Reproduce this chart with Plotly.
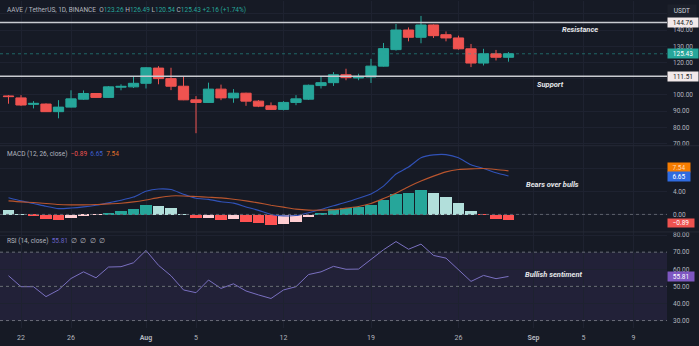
import plotly.graph_objects as go

W, H = 699, 346

# ---------------- data ----------------
dates = ["2024-07-21", "2024-07-22", "2024-07-23", "2024-07-24", "2024-07-25", "2024-07-26",
         "2024-07-27", "2024-07-28", "2024-07-29", "2024-07-30", "2024-07-31",
         "2024-08-01", "2024-08-02", "2024-08-03", "2024-08-04", "2024-08-05", "2024-08-06",
         "2024-08-07", "2024-08-08", "2024-08-09", "2024-08-10", "2024-08-11", "2024-08-12",
         "2024-08-13", "2024-08-14", "2024-08-15", "2024-08-16", "2024-08-17", "2024-08-18",
         "2024-08-19", "2024-08-20", "2024-08-21", "2024-08-22", "2024-08-23", "2024-08-24",
         "2024-08-25", "2024-08-26", "2024-08-27", "2024-08-28", "2024-08-29", "2024-08-30"]

opens = [99.4, 98.2, 94.2, 94.4, 89.7, 92.5, 97.4, 100.9, 98.5, 104.8, 105.0,
         107.2, 116.6, 110.1, 105.4, 97.0, 95.4, 103.6, 98.2, 101.1, 96.2, 93.3, 91.1,
         95.4, 97.4, 105.8, 107.6, 112.5, 110.5, 111.1, 117.8, 128.0, 140.1, 135.6, 143.2,
         137.2, 135.2, 128.5, 119.7, 125.4, 123.26]
highs = [99.9, 99.9, 96.2, 94.8, 96.8, 102.9, 102.8, 101.2, 105.5, 106.6, 111.1,
         117.2, 117.8, 116.8, 111.1, 99.3, 107.6, 106.4, 103.6, 101.4, 96.8, 95.4, 96.2,
         99.9, 106.4, 111.1, 114.1, 116.2, 113.1, 122.3, 132.1, 143.8, 141.7, 148.8, 143.5,
         139.2, 136.6, 131.5, 128.5, 127.8, 126.49]
lows = [94.6, 93.3, 91.7, 89.5, 85.6, 92.3, 96.9, 98.2, 98.2, 102.9, 104.3,
        104.0, 106.6, 103.0, 96.8, 76.4, 95.2, 96.8, 95.2, 93.3, 92.5, 90.7, 90.5,
        93.7, 96.9, 104.0, 105.6, 109.1, 109.1, 107.4, 117.5, 127.4, 133.1, 131.9, 135.2,
        133.1, 128.0, 117.2, 118.2, 121.3, 120.54]
closes = [99.0, 93.8, 94.8, 89.7, 92.5, 97.6, 100.9, 98.5, 105.0, 105.3, 107.2,
          116.8, 110.1, 105.4, 97.0, 95.4, 103.6, 98.2, 101.1, 96.2, 93.1, 91.1, 95.4,
          97.6, 106.0, 107.6, 112.5, 110.7, 111.5, 117.8, 128.6, 140.1, 135.6, 143.2, 136.6,
          135.2, 128.5, 119.7, 125.4, 123.27, 125.43]

macd_line = [2.9, 2.35, 1.9, 1.4, 1.0, 1.1, 1.3, 1.6, 2.0, 2.45, 3.0,
             4.0, 4.4, 4.3, 3.5, 2.8, 2.6, 2.2, 1.95, 1.3, 0.7, 0.0, -0.25,
             -0.2, 0.3, 0.85, 1.5, 2.1, 2.8, 3.55, 4.9, 7.0, 8.2, 9.8, 10.3,
             10.35, 9.8, 8.6, 7.95, 7.2, 6.65]
signal_line = [2.34, 2.17, 2.06, 1.89, 1.71, 1.66, 1.66, 1.71, 1.83, 1.94, 2.17,
               2.51, 2.91, 3.20, 3.20, 3.09, 2.97, 2.86, 2.63, 2.34, 2.00, 1.60, 1.26,
               0.91, 0.74, 0.74, 0.80, 1.09, 1.37, 1.89, 2.74, 3.66, 4.80, 5.77, 6.63,
               7.37, 7.77, 7.89, 7.94, 7.77, 7.54]
macd_hist = [0.74, 0.05, -0.3, -0.8, -0.9, -0.55, -0.15, -0.05, 0.35, 0.63, 0.9,
             1.6, 1.5, 1.1, 0.05, -0.63, -0.5, -0.9, -0.8, -1.2, -1.4, -1.8, -1.65,
             -1.2, -0.4, 0.23, 0.9, 1.2, 1.3, 1.7, 2.5, 3.66, 3.83, 4.23, 3.77,
             3.09, 2.0, 0.63, -0.05, -0.69, -0.89]
rsi = [56.2, 49.8, 49.8, 44.0, 47.9, 54.6, 58.5, 55.0, 61.3, 61.5, 63.8,
       71.0, 62.3, 56.2, 47.9, 46.3, 53.7, 48.8, 51.5, 47.3, 45.0, 42.9, 47.9,
       49.8, 56.9, 58.5, 61.7, 60.0, 60.1, 65.5, 71.4, 76.2, 71.7, 74.7, 68.1,
       66.5, 59.7, 52.9, 56.4, 54.5, 55.81]

resistance = 144.76
support = 111.51
change_text = "+2.16 (+1.74%)"

x_tick_vals = ["2024-07-22", "2024-07-26", "2024-08-01", "2024-08-05", "2024-08-12",
               "2024-08-19", "2024-08-26", "2024-09-01", "2024-09-05", "2024-09-09"]
x_tick_text = ["22", "26", "<b>Aug</b>", "5", "12", "19", "26", "<b>Sep</b>", "5", "9"]
price_ticks = [70, 80, 90, 100, 110, 120, 130, 140, 150]
price_tick_text = ["70.00", "80.00", "90.00", "100.00", "", "120.00", "130.00", "140.00", ""]
macd_ticks = [0, 4, 8]
macd_tick_text = ["0.00", "4.00", ""]
rsi_ticks = [30, 40, 50, 60, 70, 80]
rsi_tick_text = ["30.00", "40.00", "50.00", "60.00", "70.00", "80.00"]

# ---------------- style ----------------
BG = "#161a25"
GRID = "#1e2230"
TXT = "#b2b5be"
UP = "#26a69a"
DN = "#ef5350"
FONT = "Roboto, Liberation Sans, sans-serif"
FS = 6.5


def xp(px):
    return px / W


def yp(py):
    return 1 - py / H


PLOT_R = 667
MAIN_B, MACD_B, RSI_B = 146, 233, 330

fig = go.Figure()

fig.add_trace(go.Candlestick(
    x=dates, open=opens, high=highs, low=lows, close=closes,
    increasing=dict(line=dict(color=UP, width=1), fillcolor=UP),
    decreasing=dict(line=dict(color=DN, width=1), fillcolor=DN),
    whiskerwidth=0, xaxis="x", yaxis="y", hoverinfo="skip", showlegend=False))

hist_colors = []
prev = None
for h in macd_hist:
    if h >= 0:
        c = "#26a69a" if (prev is not None and h > prev) else "#b2dfdb"
    else:
        c = "#ff5252" if (prev is not None and h < prev) else "#ffcdd2"
    hist_colors.append(c)
    prev = h

fig.add_trace(go.Bar(
    x=dates, y=macd_hist, width=0.9 * 86400000,
    marker=dict(color=hist_colors, line=dict(width=0)),
    xaxis="x2", yaxis="y2", hoverinfo="skip", showlegend=False))
fig.add_trace(go.Scatter(
    x=dates, y=macd_line, mode="lines", line=dict(color="#3152b8", width=1.1, shape="spline", smoothing=0.6),
    xaxis="x2", yaxis="y2", hoverinfo="skip", showlegend=False))
fig.add_trace(go.Scatter(
    x=dates, y=signal_line, mode="lines", line=dict(color="#b9552e", width=1.1, shape="spline", smoothing=0.6),
    xaxis="x2", yaxis="y2", hoverinfo="skip", showlegend=False))
fig.add_trace(go.Scatter(
    x=dates, y=rsi, mode="lines", line=dict(color="#7a70c0", width=1),
    xaxis="x3", yaxis="y3", hoverinfo="skip", showlegend=False))

xr = ["2024-07-20 07:40", "2024-09-11 16:20"]


def xaxis(anchor, labels):
    return dict(range=xr, type="date", domain=[0, xp(PLOT_R)], anchor=anchor,
                tickmode="array", tickvals=x_tick_vals, ticktext=x_tick_text,
                showticklabels=labels, showgrid=True, gridcolor=GRID, gridwidth=1,
                zeroline=False, showline=False, ticks="", fixedrange=True,
                ticklabelstandoff=4,
                tickfont=dict(size=FS + 0.5, color=TXT, family=FONT),
                rangeslider=dict(visible=False))


def yaxis(anchor, dom, rng, tv, tt):
    return dict(domain=dom, anchor=anchor, side="right", range=rng,
                tickmode="array", tickvals=tv, ticktext=tt,
                showgrid=True, gridcolor=GRID, gridwidth=1, zeroline=False,
                showline=False, ticks="", ticklabelstandoff=5, fixedrange=True,
                tickfont=dict(size=FS, color=TXT, family=FONT))


shapes = []
# RSI band and guide lines
shapes.append(dict(type="rect", xref="x3 domain", yref="y3", x0=0, x1=1, y0=30, y1=70,
                   fillcolor="rgba(126,87,194,0.12)", line=dict(width=0), layer="below"))
for lv in (70, 50, 30):
    shapes.append(dict(type="line", xref="x3 domain", yref="y3", x0=0, x1=1, y0=lv, y1=lv,
                       line=dict(color="#6a6d78", width=1, dash="3px,3px")))
shapes.append(dict(type="line", xref="x2 domain", yref="y2", x0=0, x1=1, y0=0, y1=0,
                   line=dict(color="#5d606b", width=1, dash="3px,3px")))
# support / resistance
for lv in (resistance, support):
    shapes.append(dict(type="line", xref="x domain", yref="y", x0=0, x1=1, y0=lv, y1=lv,
                       line=dict(color="#c9cbd1", width=1.6)))
# current price dotted line
shapes.append(dict(type="line", xref="x domain", yref="y", x0=0, x1=1,
                   y0=closes[-1], y1=closes[-1],
                   line=dict(color="rgba(38,166,154,0.55)", width=1, dash="dot")))
# pane separators
for py in (MAIN_B, MACD_B):
    shapes.append(dict(type="line", xref="paper", yref="paper", x0=0, x1=1,
                       y0=yp(py), y1=yp(py), line=dict(color="#262a36", width=1)))

ann = []
teal = lambda s: f'<span style="color:{UP}">{s}</span>'
header = ("AAVE / TetherUS, 1D, BINANCE&nbsp;&nbsp;O" + teal(f"{opens[-1]:.2f}") +
          "&nbsp;H" + teal(f"{highs[-1]:.2f}") + "&nbsp;L" + teal(f"{lows[-1]:.2f}") +
          "&nbsp;C" + teal(f"{closes[-1]:.2f}") + "&nbsp;" + teal(change_text))
ann.append(dict(text=header, x=xp(5), y=yp(9), xref="paper", yref="paper",
                xanchor="left", yanchor="middle", showarrow=False,
                font=dict(size=FS, color=TXT, family=FONT)))


def fmt(v):
    return f"{v:.2f}".replace("-", "\u2212")


macd_head = ("MACD (12, 26, close)&nbsp;&nbsp;" +
             f'<span style="color:#ef5350">{fmt(macd_hist[-1])}</span>&nbsp;&nbsp;' +
             f'<span style="color:#3d5fd0">{fmt(macd_line[-1])}</span>&nbsp;&nbsp;' +
             f'<span style="color:#e0702a">{fmt(signal_line[-1])}</span>')
ann.append(dict(text=macd_head, x=xp(5), y=yp(154), xref="paper", yref="paper",
                xanchor="left", yanchor="middle", showarrow=False,
                font=dict(size=FS, color=TXT, family=FONT)))
rsi_head = ("RSI (14, close)&nbsp;&nbsp;" +
            f'<span style="color:#6a63c8">{fmt(rsi[-1])}</span>&nbsp;&nbsp;\u2205&nbsp;&nbsp;\u2205&nbsp;&nbsp;\u2205&nbsp;&nbsp;\u2205')
ann.append(dict(text=rsi_head, x=xp(5), y=yp(242), xref="paper", yref="paper",
                xanchor="left", yanchor="middle", showarrow=False,
                font=dict(size=FS, color=TXT, family=FONT)))

# italic notes
notes = [("Resistance", 580, 29), ("Support", 550, 84.5),
         ("Bears over bulls", 552, 185), ("Bullish sentiment", 554, 276)]
for t, x, y in notes:
    ann.append(dict(text=f"<b><i>{t}</i></b>", x=xp(x), y=yp(y), xref="paper", yref="paper",
                    xanchor="center", yanchor="middle", showarrow=False,
                    font=dict(size=7.5, color="#e6e7ea", family=FONT)))

# right scale labels
ann.append(dict(text="USDT", x=xp(682), y=yp(10), xref="paper", yref="paper",
                xanchor="center", yanchor="middle", showarrow=False, width=26, height=10,
                bgcolor="#1c202b", font=dict(size=FS, color="#d1d4dc", family=FONT)))


def tag(val, yref, text, bg, fg, w, yshift=0, h=9):
    return dict(text=text, x=xp(PLOT_R), y=val, xref="paper", yref=yref,
                xanchor="left", yanchor="middle", showarrow=False, width=w, height=h,
                align="center", bgcolor=bg, borderpad=0, yshift=yshift,
                font=dict(size=FS, color=fg, family=FONT))


ann.append(tag(resistance, "y", f"{resistance:.2f}", "#f2e9ea", "#131722", 30))
ann.append(tag(support, "y", f"{support:.2f}", "#f2e9ea", "#131722", 30))
ann.append(tag(closes[-1], "y", f"{closes[-1]:.2f}", UP, "#ffffff", 30))
ann.append(tag(signal_line[-1], "y2", fmt(signal_line[-1]), "#f57c00", "#ffd9b0", 22, yshift=3.5))
ann.append(tag(macd_line[-1], "y2", fmt(macd_line[-1]), "#2f6be0", "#ffffff", 22))
ann.append(tag(macd_hist[-1], "y2", fmt(macd_hist[-1]), "#ef5350", "#ffffff", 26, yshift=-3, h=8))
ann.append(tag(rsi[-1], "y3", fmt(rsi[-1]), "#7e57c2", "#ffffff", 26))

fig.update_layout(
    width=W, height=H, margin=dict(l=0, r=0, t=0, b=0),
    paper_bgcolor=BG, plot_bgcolor=BG, showlegend=False, hovermode=False,
    boxgap=0.18, boxgroupgap=0, bargap=0,
    font=dict(family=FONT, size=FS, color=TXT),
    xaxis=xaxis("y", False),
    xaxis2=xaxis("y2", False),
    xaxis3=xaxis("y3", True),
    yaxis=yaxis("x", [yp(MAIN_B), 1], [68.67, 158.0], price_ticks, price_tick_text),
    yaxis2=yaxis("x2", [yp(MACD_B), yp(MAIN_B)], [-3.04, 11.89], macd_ticks, macd_tick_text),
    yaxis3=yaxis("x3", [yp(RSI_B), yp(MACD_B)], [25.57, 81.8], rsi_ticks, rsi_tick_text),
    shapes=shapes, annotations=ann,
)

fig.write_html("out.html")
